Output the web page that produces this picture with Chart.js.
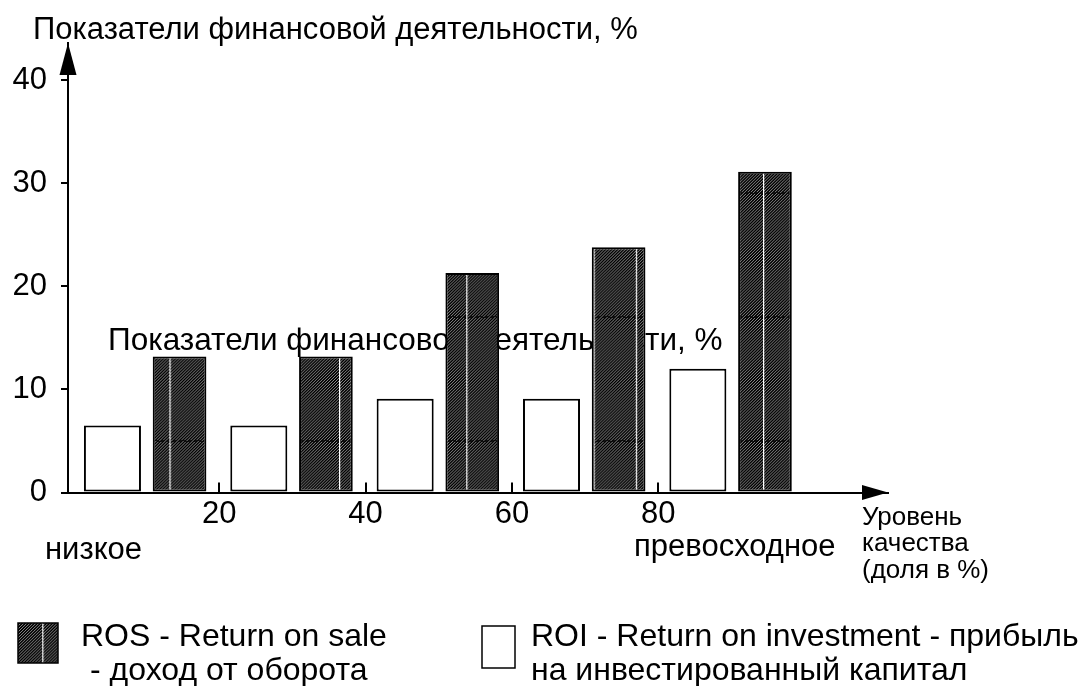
<!DOCTYPE html>
<html>
<head>
<meta charset="utf-8">
<script src="https://cdn.jsdelivr.net/npm/chart.js@4.4.1/dist/chart.umd.min.js"></script>
<style>
  html, body { margin: 0; padding: 0; background: #fff; }
  #wrap { width: 1090px; height: 686px; position: relative; }
</style>
</head>
<body>
<div id="wrap"><canvas id="myChart"></canvas></div>
<script>
// data
var groupPositions = [10, 30, 50, 70, 90]
var xTickValues = [20, 40, 60, 80]
var yTickValues = [0, 10, 20, 30, 40]
var roiValues = [6.5, 6.5, 9.1, 9.1, 12]
var rosValues = [13.2, 13.2, 21.3, 23.8, 31.1]

var chartTitle = 'Показатели финансовой деятельности, %'
var lowLabel = 'низкое'
var highLabel = 'превосходное'
var xAxisTitle = ['Уровень', 'качества', '(доля в %)']
var rosLegend = ['ROS - Return on sale', '- доход от оборота']
var roiLegend = ['ROI - Return on investment - прибыль', 'на инвестированный капитал']

var FONT = '"Liberation Sans", Arial, sans-serif'
Chart.defaults.font.family = FONT

// dark hatch fill: black with grey "/" strokes, white vertical line and a dashed rule
function makeHatch() {
  var tile = document.createElement('canvas')
  tile.width = 42
  tile.height = 126
  var c = tile.getContext('2d')
  c.fillStyle = '#000'
  c.fillRect(0, 0, 42, 126)
  c.strokeStyle = '#8c8c8c'
  c.lineWidth = 1
  for (var x = -129; x <= 45; x += 3) {
    c.beginPath()
    c.moveTo(x, 126)
    c.lineTo(x + 126, 0)
    c.stroke()
  }
  c.setLineDash([3, 2])
  c.strokeStyle = '#000'
  c.lineWidth = 1.5
  c.beginPath()
  c.moveTo(0, 63)
  c.lineTo(42, 63)
  c.stroke()
  c.fillStyle = '#fff'
  c.fillRect(1, 0, 1.2, 126)
  var p = c.createPattern(tile, 'repeat')
  var sx = 42.4 / 42, sy = 124 / 126
  p.setTransform(new DOMMatrix([sx, 0, 0, sy, 0.4 - 1.6 * sx, 69 - 63 * sy]))
  return p
}

var hatch = makeHatch()

var decorations = {
  id: 'decorations',
  beforeDatasetsDraw: function (chart) {
    var c = chart.ctx
    c.save()
    c.fillStyle = '#000'
    c.font = '31.5px ' + FONT
    c.textBaseline = 'alphabetic'
    c.fillText(chartTitle, 108, 350)
    c.restore()
  },
  afterDraw: function (chart) {
    var c = chart.ctx
    var area = chart.chartArea
    var xs = chart.scales.x
    c.save()
    c.fillStyle = '#000'
    c.strokeStyle = '#000'

    // x tick marks point up into the plot
    c.lineWidth = 2
    xs.ticks.forEach(function (t) {
      var px = Math.round(xs.getPixelForValue(t.value))
      c.beginPath()
      c.moveTo(px, area.bottom)
      c.lineTo(px, area.bottom - 10)
      c.stroke()
    })

    // arrow heads
    c.beginPath()
    c.moveTo(area.left, area.top)
    c.lineTo(area.left - 8.5, area.top + 32)
    c.lineTo(area.left + 8.5, area.top + 32)
    c.closePath()
    c.fill()
    c.beginPath()
    c.moveTo(area.right, area.bottom)
    c.lineTo(area.right - 26, area.bottom - 7.5)
    c.lineTo(area.right - 26, area.bottom + 7.5)
    c.closePath()
    c.fill()

    c.textBaseline = 'alphabetic'
    c.font = '31px ' + FONT
    c.fillText(chartTitle, 33, 39)
    c.fillText(lowLabel, 45, 559)
    c.fillText(highLabel, 634, 556)

    c.font = '26px ' + FONT
    c.fillText(xAxisTitle[0], 862, 525)
    c.fillText(xAxisTitle[1], 862, 551)
    c.fillText(xAxisTitle[2], 862, 578)

    // legend
    c.fillStyle = hatch
    c.fillRect(18, 623, 40, 40)
    c.lineWidth = 1.5
    c.strokeRect(18, 623, 40, 40)
    c.fillStyle = '#fff'
    c.fillRect(482, 626, 33, 42)
    c.strokeRect(482, 626, 33, 42)
    c.fillStyle = '#000'
    c.font = '32px ' + FONT
    c.fillText(rosLegend[0], 81, 646)
    c.fillText(rosLegend[1], 90, 680)
    c.fillText(roiLegend[0], 531, 646)
    c.fillText(roiLegend[1], 531, 680)
    c.restore()
  }
}

var ctx = document.getElementById('myChart')
var myChart = new Chart(ctx, {
  type: 'bar',
  data: {
    datasets: [{
      label: roiLegend.join(' '),
      data: groupPositions.map(function (x, i) { return { x: x, y: roiValues[i] } }),
      backgroundColor: '#ffffff',
      borderColor: '#000000',
      borderWidth: 2,
      borderSkipped: false,
      categoryPercentage: 0.917,
      barPercentage: 0.85
    }, {
      label: rosLegend.join(' '),
      data: groupPositions.map(function (x, i) { return { x: x, y: rosValues[i] } }),
      backgroundColor: hatch,
      borderColor: '#000000',
      borderWidth: 2,
      borderSkipped: false,
      categoryPercentage: 0.917,
      barPercentage: 0.80
    }]
  },
  options: {
    responsive: true,
    maintainAspectRatio: false,
    animation: false,
    layout: { padding: { left: 0, top: 43, right: 202, bottom: 153.5 } },
    plugins: {
      legend: { display: false },
      tooltip: { enabled: false },
      title: { display: false }
    },
    scales: {
      x: {
        type: 'linear',
        min: -0.66,
        max: 111.4,
        offset: false,
        z: 1,
        grid: { display: false, offset: false },
        border: { display: true, color: '#000', width: 2 },
        afterBuildTicks: function (s) { s.ticks = xTickValues.map(function (v) { return { value: v } }) },
        afterFit: function (s) { s.height = 40 },
        ticks: { autoSkip: false, maxRotation: 0, padding: -2, color: '#000', font: { size: 31, lineHeight: 1 } }
      },
      y: {
        min: 0,
        max: 43.6,
        z: 1,
        grid: { display: true, drawOnChartArea: false, drawTicks: true, tickLength: 7, color: '#000', lineWidth: 2 },
        border: { display: true, color: '#000', width: 2 },
        afterBuildTicks: function (s) { s.ticks = yTickValues.map(function (v) { return { value: v } }) },
        afterFit: function (s) { s.width = 68 },
        ticks: { padding: 14, color: '#000', font: { size: 31, lineHeight: 1 } }
      }
    }
  },
  plugins: [decorations]
})
</script>
</body>
</html>
